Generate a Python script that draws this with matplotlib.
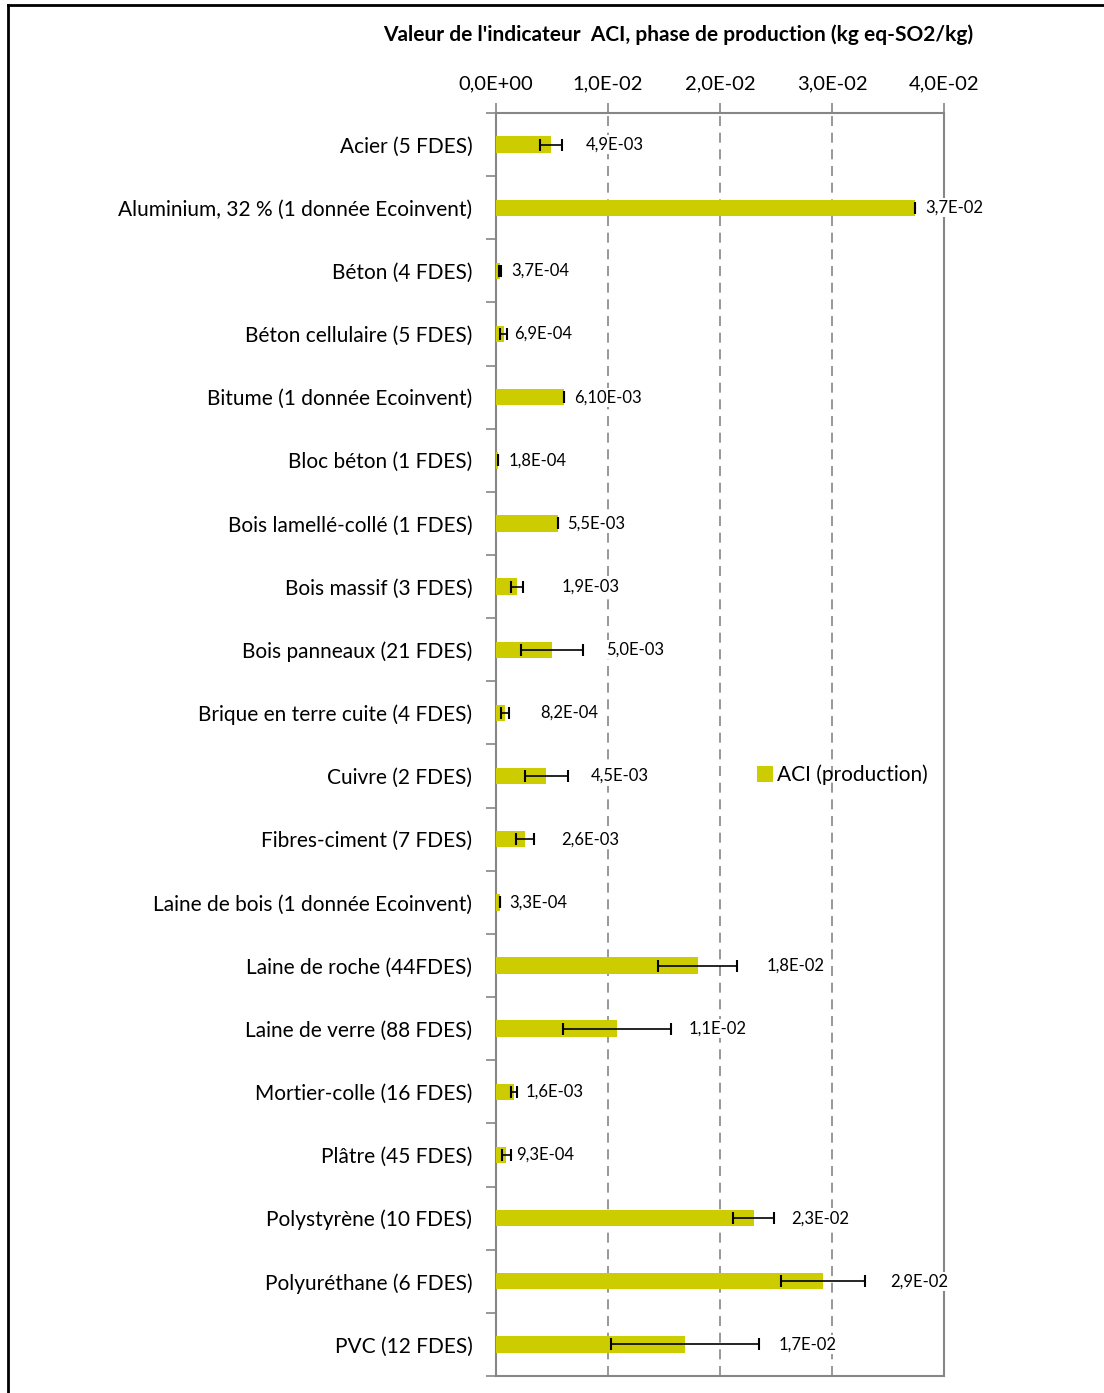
import matplotlib
matplotlib.use("Agg")
import matplotlib.pyplot as plt
from matplotlib.lines import Line2D
from matplotlib.patches import Patch
import numpy as np

categories = [
    "Acier (5 FDES)",
    "Aluminium, 32 % (1 donnée Ecoinvent)",
    "Béton (4 FDES)",
    "Béton cellulaire (5 FDES)",
    "Bitume (1 donnée Ecoinvent)",
    "Bloc béton (1 FDES)",
    "Bois lamellé-collé (1 FDES)",
    "Bois massif (3 FDES)",
    "Bois panneaux (21 FDES)",
    "Brique en terre cuite (4 FDES)",
    "Cuivre (2 FDES)",
    "Fibres-ciment (7 FDES)",
    "Laine de bois (1 donnée Ecoinvent)",
    "Laine de roche (44FDES)",
    "Laine de verre (88 FDES)",
    "Mortier-colle (16 FDES)",
    "Plâtre (45 FDES)",
    "Polystyrène (10 FDES)",
    "Polyuréthane (6 FDES)",
    "PVC (12 FDES)",
]
values = [4.9e-3, 3.74e-2, 3.7e-4, 6.9e-4, 6.10e-3, 1.8e-4, 5.5e-3, 1.9e-3, 5.0e-3, 8.2e-4,
          4.5e-3, 2.6e-3, 3.3e-4, 1.8e-2, 1.08e-2, 1.6e-3, 9.3e-4, 2.3e-2, 2.92e-2, 1.69e-2]
errors = [1.0e-3, 0.0, 1.0e-4, 3.0e-4, 0.0, 0.0, 0.0, 5.3e-4, 2.8e-3, 3.6e-4,
          1.9e-3, 7.8e-4, 0.0, 3.5e-3, 4.8e-3, 3.0e-4, 4.0e-4, 1.8e-3, 3.75e-3, 6.6e-3]
value_labels = ["4,9E-03", "3,7E-02", "3,7E-04", "6,9E-04", "6,10E-03", "1,8E-04", "5,5E-03",
                "1,9E-03", "5,0E-03", "8,2E-04", "4,5E-03", "2,6E-03", "3,3E-04", "1,8E-02",
                "1,1E-02", "1,6E-03", "9,3E-04", "2,3E-02", "2,9E-02", "1,7E-02"]
x_ticks = [0.0, 0.01, 0.02, 0.03, 0.04]
x_tick_labels = ["0,0E+00", "1,0E-02", "2,0E-02", "3,0E-02", "4,0E-02"]
title = "Valeur de l'indicateur  ACI, phase de production (kg eq-SO2/kg)"
legend_label = "ACI (production)"

# layout: gap (pixels) between the end of each error bar and its value label
label_gap_px = [24, 10, 10, 7, 10, 11, 10, 38, 23, 31, 23, 27, 10, 30, 18, 8, 5, 17, 25, 19]

FONT = "Lato"
BAR = "#CCCC00"
GREY = "#868686"
W, H = 1104, 1393

fig = plt.figure(figsize=(W / 100, H / 100), dpi=100)
ax = fig.add_axes([496 / W, 1 - 1376 / H, (944 - 496) / W, (1376 - 113) / H])

y = np.arange(len(categories))
ax.barh(y, values, height=0.26, color=BAR, zorder=3)
ax.errorbar(values, y, xerr=errors, fmt="none", ecolor="black", elinewidth=1.2,
            capsize=4, capthick=1.5, zorder=4)

for yi, v, e, lab, g in zip(y, values, errors, value_labels, label_gap_px):
    ax.annotate(lab, xy=(v + e, yi), xytext=(g * 0.72, 0), textcoords="offset points",
                ha="left", va="center", fontsize=12, family=FONT, color="black",
                annotation_clip=False, zorder=6,
                bbox=dict(boxstyle="square,pad=0.1", facecolor="white", edgecolor="none"))

ax.set_xlim(0, 0.04)
ax.set_ylim(len(categories) - 0.5, -0.5)

ax.xaxis.tick_top()
ax.set_xticks(x_ticks)
ax.set_xticklabels(x_tick_labels, family=FONT, fontsize=14.5)
ax.tick_params(axis="x", direction="out", length=7, color=GREY, width=1.2, pad=8)
ax.grid(axis="x", linestyle=(0, (6, 4)), color=GREY, linewidth=1.2, zorder=1)

ax.set_yticks(y)
ax.set_yticklabels(categories, family=FONT, fontsize=15)
ax.set_yticks(np.arange(-0.5, len(categories), 1.0), minor=True)
ax.tick_params(axis="y", which="major", length=0, pad=17)
ax.tick_params(axis="y", which="minor", length=7, color=GREY, width=1.2, direction="out")

for s in ax.spines.values():
    s.set_color(GREY)
    s.set_linewidth(1.5)
    s.set_zorder(2)

fig.text(678 / W, 1 - 35 / H, title, ha="center", va="center", fontsize=15,
         fontweight="bold", family=FONT)

handle = Patch(facecolor=BAR, edgecolor="none")
fig.legend([handle], [legend_label], loc="center left",
           bbox_to_anchor=(757 / W, 1 - 775 / H), frameon=False,
           prop={"family": FONT, "size": 15}, handlelength=0.75, handleheight=0.75,
           handletextpad=0.2, borderpad=0, borderaxespad=0)

# outer border (top and left visible)
fig.add_artist(Line2D([8 / W, 1.0], [1 - 5 / H, 1 - 5 / H], transform=fig.transFigure,
                      color="black", linewidth=2))
fig.add_artist(Line2D([8 / W, 8 / W], [0.0, 1 - 5 / H], transform=fig.transFigure,
                      color="black", linewidth=2))

fig.savefig("out.png", dpi=100)
